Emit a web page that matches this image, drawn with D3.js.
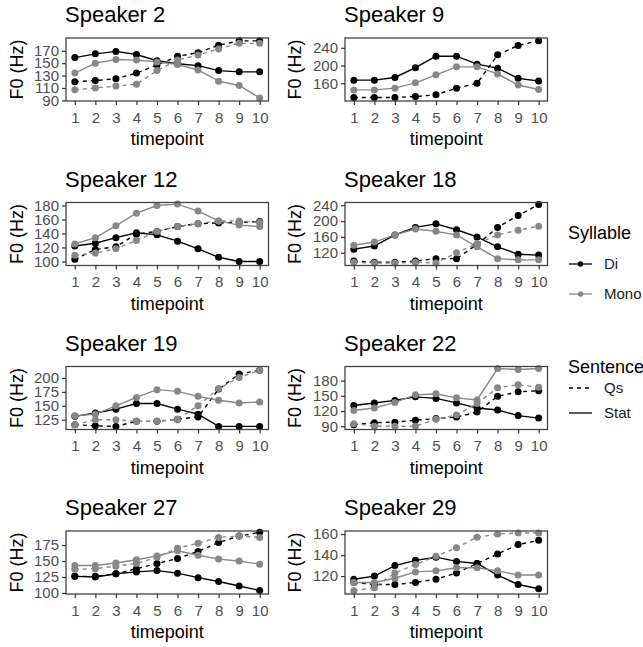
<!DOCTYPE html>
<html><head><meta charset="utf-8">
<script src="https://cdn.jsdelivr.net/npm/d3@7"></script>
<style>body{margin:0;background:#fff}svg{display:block;font-family:"Liberation Sans",Arial,sans-serif}</style>
</head><body>
<script>
const timepoints = [1,2,3,4,5,6,7,8,9,10];
const speakers = ["Speaker 2","Speaker 9","Speaker 12","Speaker 18","Speaker 19","Speaker 22","Speaker 27","Speaker 29"];
const diStat = [
  [159,165,169,164,154,149,146,138,136,136],
  [167,167,173,195,221,221,203,194,171,165],
  [122,126,134,141,138,129,118,106,100,100],
  [129,137,165,184,193,178,160,135,116,114],
  [131,137,144,154,154,144,135,113,113,113],
  [131,136,141,148,145,136,126,122,111,106],
  [126,125,130,133,135,131,124,118,111,104],
  [117,120,130,135,138,134,132,121,112,108]
];
const diQs = [
  [120,122,125,134,147,161,167,179,186,186],
  [128,128,128,130,134,149,160,224,245,256],
  [103,117,121,139,143,150,154,155,156,157],
  [99,96,96,99,105,105,141,184,214,242],
  [116,114,113,122,122,126,130,180,207,214],
  [93,97,98,102,105,108,118,149,158,160],
  [126,126,130,138,146,154,165,179,189,195],
  [114,112,112,114,117,123,132,141,150,154]
];
const monoStat = [
  [134,150,156,155,152,148,139,121,114,94],
  [145,145,149,161,179,197,197,181,156,146],
  [125,134,151,169,180,182,172,158,152,150],
  [139,147,165,180,174,165,135,105,102,102],
  [132,135,150,165,179,176,167,160,155,157],
  [121,126,137,152,154,146,142,204,202,204],
  [143,143,147,152,158,166,159,153,150,145],
  [114,114,118,124,125,128,128,125,121,121]
];
const monoQs = [
  [107,110,113,116,138,155,163,173,182,182],
  null,
  [109,112,118,130,143,150,154,158,158,156],
  [96,94,94,96,94,120,143,165,177,187],
  [116,125,125,122,122,126,150,181,201,214],
  [95,90,90,90,104,112,135,166,172,167],
  [137,138,142,146,156,170,178,187,189,187],
  [106,109,123,131,139,147,157,160,161,161]
];
const yTicks = [
  [90,110,130,150,170],[160,200,240],[100,120,140,160,180],[120,160,200,240],
  [125,150,175,200],[90,120,150,180],[100,125,150,175],[120,140,160]
];
const yDomains = [
  [89,190.6],[120,262],[94.2,184.3],[87.7,247],[107.4,220.6],[83.5,208],[98.4,197],[103,162.9]
];
const syllables = ["Di","Mono"];
const sentences = ["Qs","Stat"];

const W = 643, H = 647;
const colX = [66, 345], panelW = 202.5;
const rowTop = [38, 202.5, 366.5, 531], panelH = 63;
const colorScale = d3.scaleOrdinal().domain(syllables).range(["#000000","#878787"]);
const dashScale = d3.scaleOrdinal().domain(sentences).range(["4,4", null]);

const svg = d3.select("body").append("svg").attr("width", W).attr("height", H);

speakers.forEach((sp, i) => {
  const col = i % 2, row = Math.floor(i / 2);
  const x0 = colX[col], y0 = rowTop[row];
  const g = svg.append("g").attr("transform", `translate(${x0},${y0})`);
  const x = d3.scaleLinear().domain([0.57, 10.43]).range([0, panelW]);
  const y = d3.scaleLinear().domain(yDomains[i]).range([panelH, 0]);

  const series = [
    {syl:"Di", sen:"Qs", v: diQs[i]},
    {syl:"Di", sen:"Stat", v: diStat[i]},
    {syl:"Mono", sen:"Qs", v: monoQs[i]},
    {syl:"Mono", sen:"Stat", v: monoStat[i]}
  ].filter(s => s.v);

  const line = d3.line().x((d, j) => x(timepoints[j])).y(d => y(d));
  series.forEach(s => {
    g.append("path").datum(s.v).attr("d", line)
      .attr("fill","none").attr("stroke", colorScale(s.syl)).attr("stroke-width",1.4)
      .attr("stroke-dasharray", dashScale(s.sen));
  });
  series.forEach(s => {
    g.selectAll(null).data(s.v).enter().append("circle")
      .attr("cx", (d, j) => x(timepoints[j])).attr("cy", d => y(d)).attr("r", 3.5)
      .attr("fill", colorScale(s.syl));
  });

  g.append("rect").attr("x",0).attr("y",0).attr("width",panelW).attr("height",panelH)
    .attr("fill","none").attr("stroke","#444").attr("stroke-width",1.3);

  const xAxis = g.append("g").attr("transform",`translate(0,${panelH})`)
    .call(d3.axisBottom(x).tickValues(timepoints).tickSize(4).tickPadding(3).tickFormat(d3.format("d")));
  const yAxis = g.append("g")
    .call(d3.axisLeft(y).tickValues(yTicks[i]).tickSize(4).tickPadding(3));
  [xAxis, yAxis].forEach(a => {
    a.select(".domain").remove();
    a.selectAll(".tick line").attr("stroke","#333").attr("stroke-width",1.2);
    a.selectAll(".tick text").attr("fill","#4d4d4d").style("font-size","15px")
      .style("font-family",'"Liberation Sans",Arial,sans-serif');
  });
  xAxis.selectAll(".tick text").attr("dy", null).attr("y", 21.5);

  g.append("text").attr("x", -1).attr("y", -16).text(sp)
    .style("font-size","22px").attr("fill","#000");
  g.append("text").attr("x", panelW/2).attr("y", panelH + 44).attr("text-anchor","middle")
    .text("timepoint").style("font-size","18px").attr("fill","#000");
  g.append("text").attr("transform", `translate(${(col===0?17:295) - x0 + 6},${panelH/2}) rotate(-90)`)
    .attr("text-anchor","middle").text("F0 (Hz)").style("font-size","18px").attr("fill","#000");
});

// Legend
const lg = svg.append("g");
lg.append("text").attr("x",568).attr("y",239).text("Syllable").style("font-size","18px");
syllables.forEach((s, k) => {
  const cy = 264 + k * 30;
  lg.append("line").attr("x1",569).attr("x2",592).attr("y1",cy).attr("y2",cy)
    .attr("stroke", colorScale(s)).attr("stroke-width",1.3);
  lg.append("circle").attr("cx",580.5).attr("cy",cy).attr("r",2.7).attr("fill", colorScale(s));
  lg.append("text").attr("x",604).attr("y",cy+5.4).text(s).style("font-size","15px").attr("fill","#1a1a1a");
});
lg.append("text").attr("x",568).attr("y",373).text("Sentence").style("font-size","18px");
sentences.forEach((s, k) => {
  const cy = 388 + k * 25;
  lg.append("line").attr("x1",569).attr("x2",592).attr("y1",cy).attr("y2",cy)
    .attr("stroke","#000").attr("stroke-width",1.3).attr("stroke-dasharray", dashScale(s));
  lg.append("text").attr("x",604).attr("y",cy+5.4).text(s).style("font-size","15px").attr("fill","#1a1a1a");
});
</script>
</body></html>
